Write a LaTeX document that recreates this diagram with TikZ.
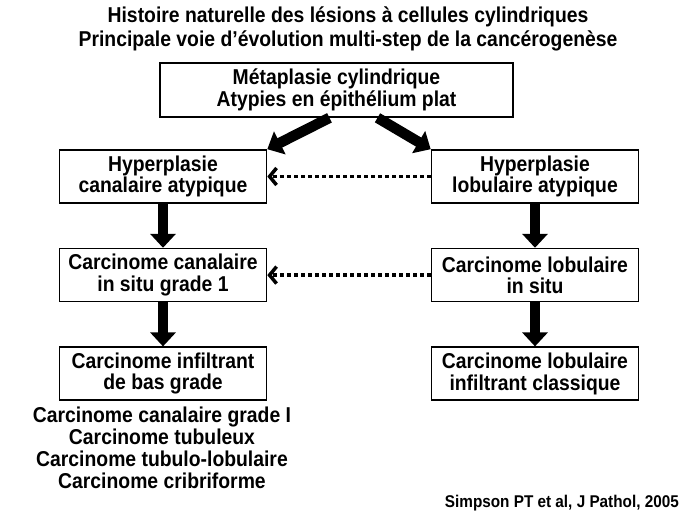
\documentclass[tikz,border=0pt]{standalone}
\usepackage{fontspec}
\setmainfont[FakeStretch=0.9]{Liberation Sans}
\usetikzlibrary{arrows.meta,positioning}
\newcommand{\bigtxt}{\bfseries\fontsize{21.5}{21.5}\selectfont}
\newcommand{\smalltxt}{\bfseries\fontsize{17}{18}\selectfont}

\begin{document}
\begin{tikzpicture}[x=1pt, y=-1pt,
  node distance=44pt and 165pt,
  box/.style={draw, line width=1.6pt, align=center, font=\bigtxt,
              minimum width=207pt, minimum height=53pt, inner sep=2pt},
  fat/.style={-{Triangle[length=14pt,width=25pt]}, line width=10.5pt},
  dots/.style={-{Straight Barb[length=7pt,width=17pt]}, line width=3.5pt,
               dash pattern=on 3.5pt off 3.5pt}]
\useasboundingbox (0,0) rectangle (689,517);
\node[font={\bfseries\fontsize{21.5}{24}\selectfont}, align=center] (title) at (348,29)
  {Histoire naturelle des lésions à cellules cylindriques\\
   Principale voie d’évolution multi-step de la cancérogenèse};
\node[box, minimum width=353pt, minimum height=54pt,
      font={\bfseries\fontsize{21.5}{22}\selectfont}] (meta) at (336.5,90)
  {Métaplasie cylindrique\\ Atypies en épithélium plat};
\node[box] (hca) at (163,176.5) {Hyperplasie\\ canalaire atypique};
\node[box] (hla) at (535,176.5) {Hyperplasie\\ lobulaire atypique};
\node[box, below=of hca] (cca) {Carcinome canalaire\\ in situ grade 1};
\node[box, below=of hla] (cla) {Carcinome lobulaire\\ in situ};
\node[box, below=of cca] (cia) {Carcinome infiltrant\\ de bas grade};
\node[box, below=of cla] (cli) {Carcinome lobulaire\\ infiltrant classique};
\node[font={\bfseries\fontsize{21.5}{22}\selectfont}, align=center] (types) at (162,448)
  {Carcinome canalaire grade I\\ Carcinome tubuleux\\
   Carcinome tubulo-lobulaire\\ Carcinome cribriforme};
\node[font=\smalltxt, anchor=east, inner sep=0pt] (ref) at (679,503)
  {Simpson PT et al, J Pathol, 2005};
\draw[fat] ([xshift=-7pt]meta.south) -- (hca.north east);
\draw[fat] ([xshift=41pt]meta.south) -- (hla.north west);
\draw[fat] (hca) -- (cca);
\draw[fat] (cca) -- (cia);
\draw[fat] (hla) -- (cla);
\draw[fat] (cla) -- (cli);
\draw[dots] (hla) -- (hca);
\draw[dots] (cla) -- (cca);
\end{tikzpicture}
\end{document}
